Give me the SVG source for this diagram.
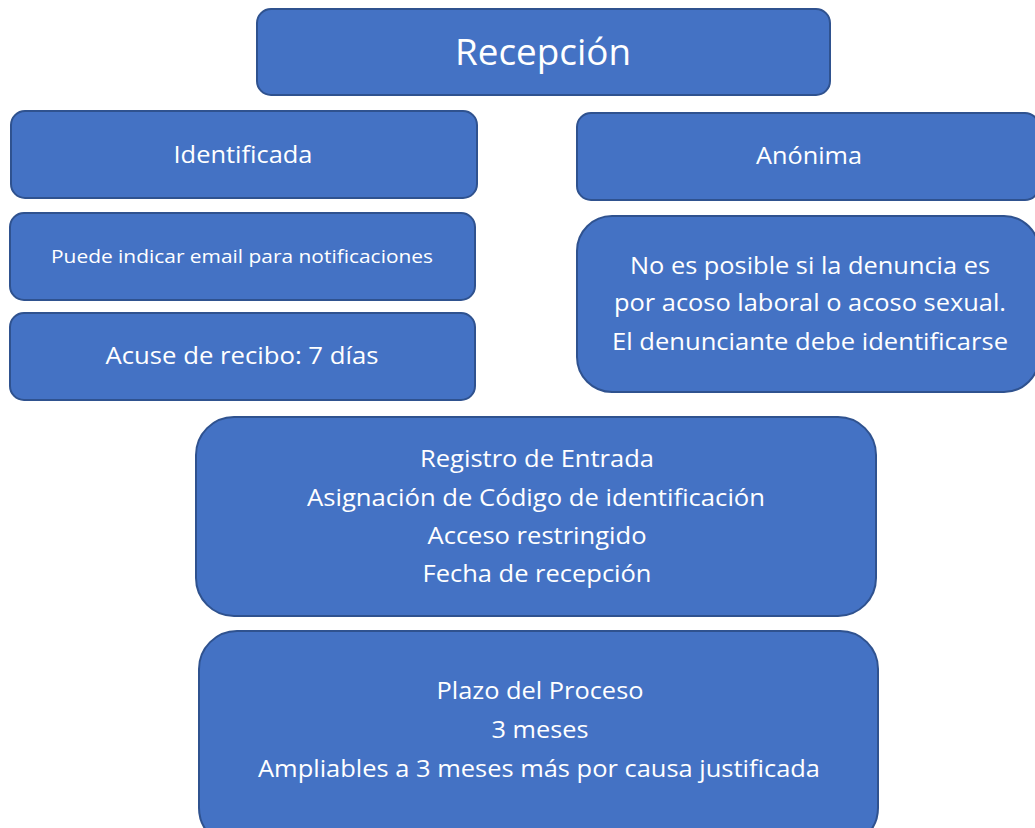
<svg xmlns="http://www.w3.org/2000/svg" width="1035" height="828" viewBox="0 0 1035 828">
<style>
.box{fill:#4472C4;stroke:#2F528F;stroke-width:2}
.t{fill:#FFFFFF;font-family:"Open Sans","Noto Sans","Liberation Sans",sans-serif;text-anchor:middle}
</style>
<rect width="1035" height="828" fill="#FFFFFF"/>
<g id="recepcion">
<rect class="box" x="257" y="9" width="573" height="86" rx="14"/>
<text class="t" x="543" y="65" font-size="36" textLength="176" lengthAdjust="spacingAndGlyphs">Recepción</text>
</g>
<g id="identificada">
<rect class="box" x="11" y="111" width="466" height="87" rx="14"/>
<text class="t" x="243" y="163" font-size="23" textLength="139" lengthAdjust="spacingAndGlyphs">Identificada</text>
</g>
<g id="email">
<rect class="box" x="10" y="213" width="465" height="87" rx="14"/>
<text class="t" x="242" y="263" font-size="18" textLength="382" lengthAdjust="spacingAndGlyphs">Puede indicar email para notificaciones</text>
</g>
<g id="acuse">
<rect class="box" x="10" y="313" width="465" height="87" rx="14"/>
<text class="t" x="242" y="364" font-size="23" textLength="273" lengthAdjust="spacingAndGlyphs">Acuse de recibo: 7 días</text>
</g>
<g id="anonima">
<rect class="box" x="577" y="113" width="462" height="87" rx="14"/>
<text class="t" x="809" y="164" font-size="23" textLength="106" lengthAdjust="spacingAndGlyphs">Anónima</text>
</g>
<g id="no-posible">
<rect class="box" x="577" y="216" width="462" height="176" rx="35"/>
<text class="t" x="810" y="274" font-size="24" textLength="360" lengthAdjust="spacingAndGlyphs">No es posible si la denuncia es</text>
<text class="t" x="810" y="311" font-size="24" textLength="392" lengthAdjust="spacingAndGlyphs">por acoso laboral o acoso sexual.</text>
<text class="t" x="810" y="350" font-size="24" textLength="396" lengthAdjust="spacingAndGlyphs">El denunciante debe identificarse</text>
</g>
<g id="registro">
<rect class="box" x="196" y="417" width="680" height="199" rx="38"/>
<text class="t" x="537" y="467" font-size="24" textLength="234" lengthAdjust="spacingAndGlyphs">Registro de Entrada</text>
<text class="t" x="536" y="506" font-size="24" textLength="458" lengthAdjust="spacingAndGlyphs">Asignación de Código de identificación</text>
<text class="t" x="537" y="544" font-size="24" textLength="219" lengthAdjust="spacingAndGlyphs">Acceso restringido</text>
<text class="t" x="537" y="582" font-size="24" textLength="229" lengthAdjust="spacingAndGlyphs">Fecha de recepción</text>
</g>
<g id="plazo">
<rect class="box" x="199" y="631" width="679" height="215" rx="38"/>
<text class="t" x="540" y="699" font-size="24" textLength="207" lengthAdjust="spacingAndGlyphs">Plazo del Proceso</text>
<text class="t" x="540" y="738" font-size="24" textLength="97" lengthAdjust="spacingAndGlyphs">3 meses</text>
<text class="t" x="539" y="777" font-size="24" textLength="562" lengthAdjust="spacingAndGlyphs">Ampliables a 3 meses más por causa justificada</text>
</g>
<g id="connectors"></g>
</svg>
